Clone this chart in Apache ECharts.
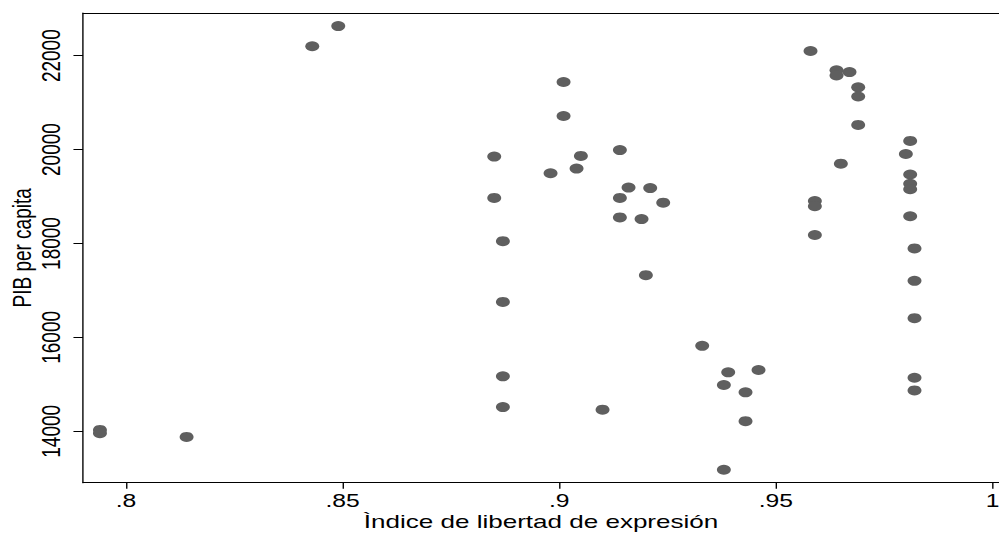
<!DOCTYPE html>
<html>
<head>
<meta charset="utf-8">
<script src="https://cdn.jsdelivr.net/npm/echarts@6/dist/echarts.min.js"></script>
<style>
  html, body { margin: 0; padding: 0; background: #fff; overflow: hidden; }
  #chart {
    position: absolute; left: 0; top: 0;
    width: 729px; height: 535px;
    transform: scaleX(1.37037); transform-origin: 0 0;
  }
</style>
</head>
<body>
<div id="chart"></div>
<script>
// ---- data ----
const freedomIndex = [
  0.794, 0.794, 0.814, 0.843, 0.849,
  0.901, 0.901, 0.885, 0.905, 0.904, 0.898,
  0.914, 0.916, 0.921, 0.914, 0.924, 0.914, 0.919,
  0.885, 0.887, 0.920, 0.887, 0.887, 0.887, 0.910,
  0.958, 0.964, 0.964, 0.967, 0.969, 0.969, 0.969,
  0.981, 0.980, 0.965, 0.981, 0.981, 0.981,
  0.959, 0.959, 0.981, 0.959, 0.982,
  0.982, 0.982, 0.933, 0.939, 0.946, 0.938, 0.943,
  0.982, 0.982, 0.943, 0.938
];
const gdpPerCapita = [
  14030, 13960, 13880, 22200, 22630,
  21440, 20715, 19850, 19865, 19595, 19495,
  19990, 19190, 19180, 18970, 18870, 18555, 18520,
  18970, 18050, 17325, 16755, 15170, 14515, 14460,
  22100, 21690, 21580, 21650, 21325, 21130, 20525,
  20185, 19905, 19700, 19470, 19270, 19155,
  18905, 18795, 18580, 18180, 17895,
  17205, 16410, 15820, 15255, 15305, 14985, 14830,
  15140, 14870, 14215, 13180
];
const xTickValues = [0.8, 0.85, 0.9, 0.95, 1];
const xTickLabels = ['.8', '.85', '.9', '.95', '1'];
const yTickValues = [14000, 16000, 18000, 20000, 22000];
const yTickLabels = ['14000', '16000', '18000', '20000', '22000'];
const xTitle = 'Ìndice de libertad de expresión';
const yTitle = 'PIB per capita';

// ---- chart ----
const points = freedomIndex.map((x, i) => [x, gdpPerCapita[i]]);
const FONT = 'Liberation Sans, Arial, Helvetica, sans-serif';
const xRange = { min: 0.7901, max: 1.0015 };
const yRange = { min: 12905, max: 22909 };

function labelFor(values, labels) {
  return function (v) {
    for (let i = 0; i < values.length; i++) {
      if (Math.abs(values[i] - v) < 1e-6 * Math.max(1, Math.abs(v))) return labels[i];
    }
    return '';
  };
}

const chart = echarts.init(document.getElementById('chart'), null, { renderer: 'svg' });
chart.setOption({
  animation: false,
  backgroundColor: '#ffffff',
  grid: { left: 60.6, right: 0, top: 13, bottom: 52.3, containLabel: false, outerBoundsMode: 'none' },
  xAxis: [
    {
      type: 'value', position: 'bottom',
      min: xRange.min, max: xRange.max,
      name: xTitle, nameLocation: 'middle', nameGap: 29, nameMoveOverlap: false,
      nameTextStyle: { fontSize: 19, color: '#000', fontFamily: FONT },
      axisLine: { show: true, onZero: false, lineStyle: { color: '#000', width: 1 } },
      axisTick: { show: true, length: 6, customValues: xTickValues, lineStyle: { color: '#000', width: 1 } },
      axisLabel: {
        show: true, customValues: xTickValues, margin: 9.5,
        fontSize: 18, color: '#000', fontFamily: FONT,
        formatter: labelFor(xTickValues, xTickLabels)
      },
      splitLine: { show: false }
    },
    {
      type: 'value', position: 'top',
      min: xRange.min, max: xRange.max,
      axisLine: { show: true, onZero: false, lineStyle: { color: '#000', width: 1 } },
      axisTick: { show: false }, axisLabel: { show: false }, splitLine: { show: false }
    }
  ],
  yAxis: {
    type: 'value',
    min: yRange.min, max: yRange.max,
    name: yTitle, nameLocation: 'middle', nameGap: 35, nameRotate: 90, nameMoveOverlap: false,
    nameTextStyle: { fontSize: 19, color: '#000', fontFamily: FONT },
    axisLine: { show: true, onZero: false, lineStyle: { color: '#000', width: 1 } },
    axisTick: { show: true, length: 7, customValues: yTickValues, lineStyle: { color: '#000', width: 1 } },
    axisLabel: {
      show: true, customValues: yTickValues, rotate: 90, margin: 14,
      fontSize: 19, color: '#000', fontFamily: FONT,
      formatter: labelFor(yTickValues, yTickLabels)
    },
    splitLine: { show: false }
  },
  series: [{
    type: 'scatter',
    xAxisIndex: 0,
    data: points,
    symbol: 'circle',
    symbolSize: [10.2, 10],
    itemStyle: { color: '#5f5f5f', opacity: 1 }
  }]
});
</script>
</body>
</html>
